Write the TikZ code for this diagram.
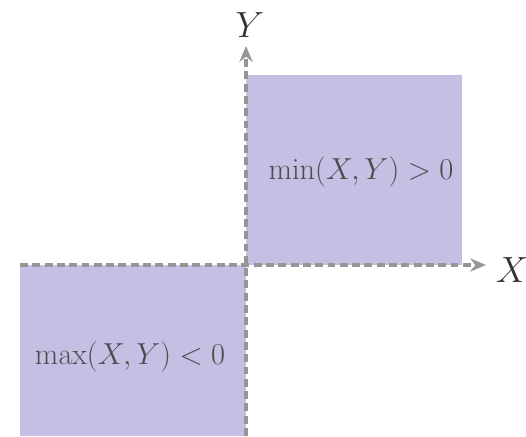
\documentclass[tikz,border=0pt]{standalone}
\usetikzlibrary{arrows.meta}
\definecolor{regionfill}{RGB}{198,191,228}
\definecolor{axisgray}{RGB}{150,150,150}
\tikzset{
  region/.style={fill=regionfill, draw=none},
  axisline/.style={draw=axisgray, line width=2.2pt, dash pattern=on 4.5pt off 2.5pt, -{Stealth[length=9pt,width=7.5pt]}},
  regionlabel/.style={font=\LARGE, text=black!70},
  axislabel/.style={font=\huge, text=black!80}
}
\begin{document}
\begin{tikzpicture}
\useasboundingbox (0,0) rectangle (10.52,8.72);
\coordinate (O) at (4.92,3.42);
\coordinate (URc) at (9.24,7.22);
\coordinate (LLc) at (0.40,0);
\fill[region] (O) rectangle (URc);
\fill[region] (LLc) rectangle (O);
\coordinate (xs) at (0.40,3.42);
\coordinate (xe) at (9.72,3.42);
\coordinate (ys) at (4.92,0);
\coordinate (ye) at (4.92,7.80);
\draw[axisline] (xs) -- (xe);
\draw[axisline] (ys) -- (ye);
\node[axislabel] (xl) at (10.24,3.32) {$X$};
\node[axislabel] (yl) at (5.0,8.22) {$Y$};
\node[regionlabel] (minl) at (7.22,5.28) {$\min(X,Y)>0$};
\node[regionlabel] (maxl) at (2.6,1.58) {$\max(X,Y)<0$};
\end{tikzpicture}
\end{document}
